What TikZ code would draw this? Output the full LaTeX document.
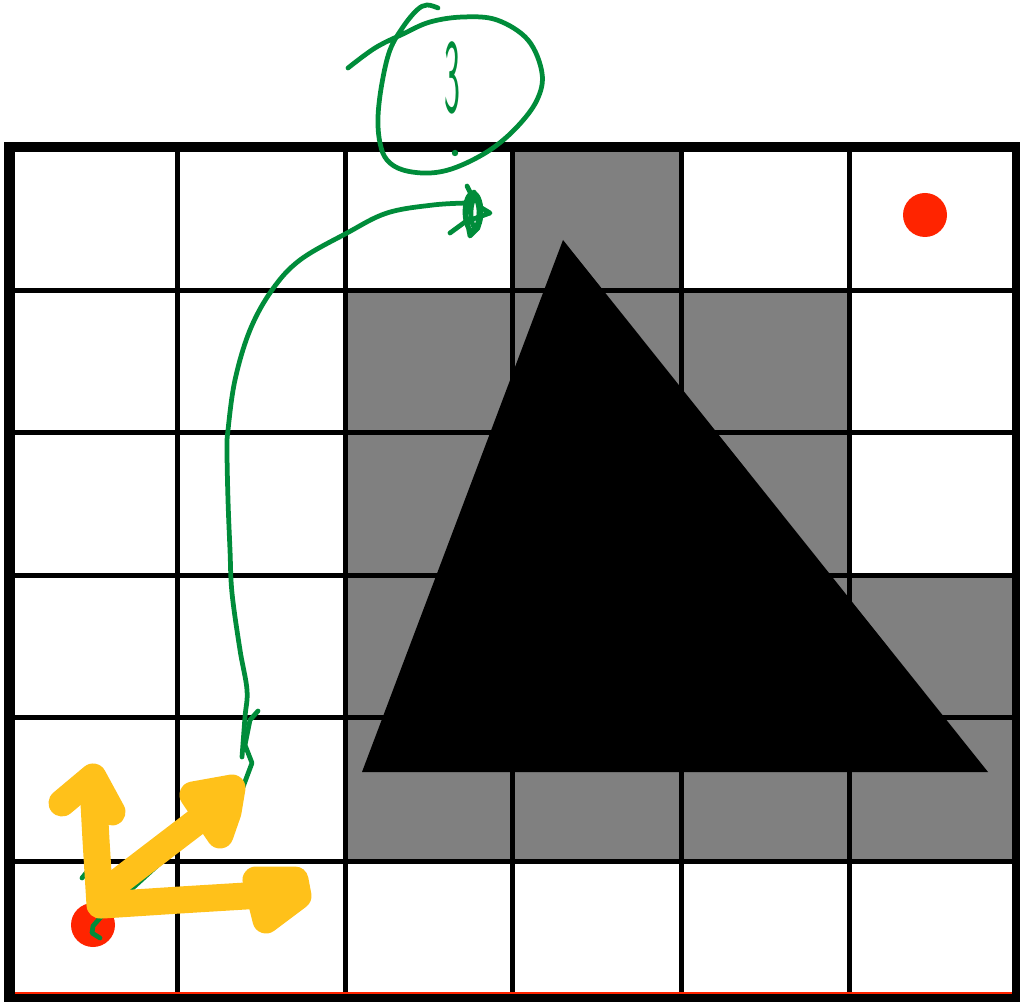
\documentclass[tikz,border=0pt]{standalone}
\usepackage{tikz}
\definecolor{gridgray}{RGB}{128,128,128}
\definecolor{dotred}{RGB}{255,36,0}
\definecolor{pengreen}{RGB}{0,140,58}
\definecolor{penyellow}{RGB}{255,193,26}
\tikzset{
  gridline/.style={line width=1mm, black},
  border/.style={line width=2mm, black},
  graycell/.style={fill=gridgray, draw=none},
  reddot/.style={fill=dotred, draw=none},
  greenpen/.style={draw=pengreen, line width=0.95mm, line cap=round, line join=round},
  yellowpen/.style={draw=penyellow, line width=5.4mm, line cap=round, line join=round},
  yellowhead/.style={draw=penyellow, fill=penyellow, line width=5.4mm, line cap=round, line join=round}
}
\begin{document}
\begin{tikzpicture}[x=0.2mm, y=-0.2mm]
\useasboundingbox (0,0) rectangle (1020,1002);
\fill[white] (0,0) rectangle (1020,1002);
% gray cells
\path[graycell] (512.5,147) rectangle (681,290.5);
\path[graycell] (345.5,290.5) rectangle (849.5,575.5);
\path[graycell] (345.5,575.5) rectangle (1017,861);
% grid lines
\foreach \x in {177.5,345.5,512.5,681,849.5}
  \draw[gridline] (\x,147) -- (\x,999);
\foreach \y in {290.5,432.5,575.5,717.5,861}
  \draw[gridline] (9.5,\y) -- (1017,\y);
% triangle
\fill[black] (563,240) -- (362,772) -- (988,772) -- cycle;
% border
\draw[border] (9.5,147) rectangle (1017,999);
\draw[dotred, line width=0.3mm] (15,992.8) -- (1012,992.8);
% red dots
\fill[reddot] (925,215) circle (22);
\fill[reddot] (93,925) circle (22);
% green hand drawing: loop with digit
\draw[greenpen] plot[smooth, tension=0.6] coordinates {
  (348,68) (375,48) (403,34) (430,22) (463,17) (497,20) (528,40) (542,73)
  (537,100) (517,127) (490,150) (457,167) (430,173) (403,170) (387,160)
  (380,143) (378,117) (382,83) (390,50) (403,27) (417,10) (427,5) (438,8)};
\node[text=pengreen, font=\sffamily\fontsize{60}{60}\selectfont, xscale=0.32, inner sep=0] (digit) at (452,78) {3};
\fill[pengreen] (455,153) circle (3.2);
% green curve
\draw[greenpen] plot[smooth, tension=0.6] coordinates {
  (242,757) (245,717) (247,690) (240,650) (232,593) (230,550) (228,500) (227,450)
  (228,430) (235,380) (250,330) (272,290) (300,260) (347,233) (387,213) (433,205) (468,203)};
\draw[greenpen] (258,711) -- (250,720) -- (245,745) -- (252,763) -- (243,787) -- (100,918) -- (93,926) -- (92,933) -- (100,938);
\draw[greenpen] (82,878) -- (91,867);
% scribbled arrowhead
\draw[greenpen] (473,212) ellipse (8 and 19);
\draw[greenpen] (475,213) ellipse (4 and 14);
\draw[greenpen] (467,186) -- (472,196) -- (466,215) -- (470,236) -- (478,228) -- (480,205) -- (474,192);
\draw[greenpen] (450,233) -- (465,222) -- (490,213) -- (480,207);
% yellow arrows
\draw[yellowpen] (100,905) -- (96,840) -- (93,785);
\draw[yellowpen] (62,803) -- (93,777) -- (112,812);
\draw[yellowpen] (103,905) -- (180,900) -- (262,895);
\draw[yellowhead] (256,880) -- (295,880) -- (298,896) -- (266,920) -- cycle;
\draw[yellowpen] (110,888) -- (212,810);
\draw[yellowhead] (193,795) -- (232,788) -- (228,812) -- (220,835) -- cycle;
\end{tikzpicture}
\end{document}
